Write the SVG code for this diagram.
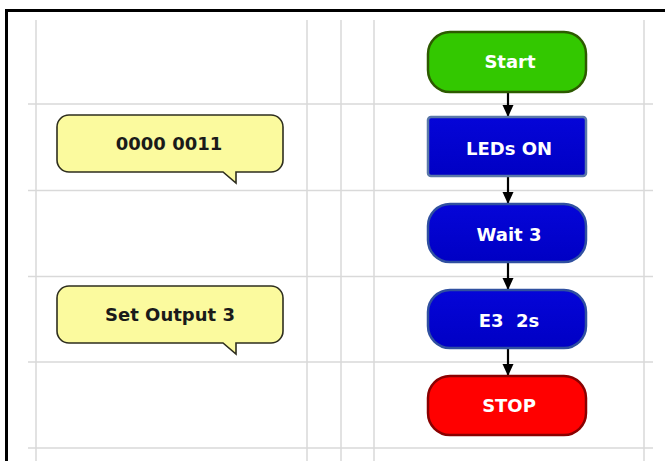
<svg xmlns="http://www.w3.org/2000/svg" width="665" height="461" viewBox="0 0 665 461">
  <style>
    .grid { stroke: #d9d9d9; stroke-width: 1.5; fill: none; }
    .frame { stroke: #000; stroke-width: 3; fill: none; }
    .lbl { font-family: "DejaVu Sans", Verdana, sans-serif; font-weight: bold; font-size: 18px; text-anchor: middle; }
    .wt { fill: #ffffff; }
    .bk { fill: #1a1a1a; }
    .conn { stroke: #000; stroke-width: 2.2; fill: none; }
    .bubble { fill: #fbfa9e; stroke: #2e2e1e; stroke-width: 1.6; }
  </style>
  <defs>
    <marker id="arr" viewBox="0 0 12 12" refX="12" refY="6" markerWidth="12" markerHeight="12" markerUnits="userSpaceOnUse" orient="auto">
      <path d="M0,0.5 L12,6 L0,11.5 Z" fill="#000"/>
    </marker>
    <linearGradient id="blueG" x1="0" y1="0" x2="0" y2="1">
      <stop offset="0" stop-color="#0505d8"/>
      <stop offset="1" stop-color="#0000c4"/>
    </linearGradient>
  </defs>
  <rect width="665" height="461" fill="#ffffff"/>
  <g id="grid">
    <line class="grid" x1="36" y1="20" x2="36" y2="461"/>
    <line class="grid" x1="307" y1="20" x2="307" y2="461"/>
    <line class="grid" x1="341" y1="20" x2="341" y2="461"/>
    <line class="grid" x1="374" y1="20" x2="374" y2="461"/>
    <line class="grid" x1="644" y1="20" x2="644" y2="461"/>
    <line class="grid" x1="28" y1="104" x2="653" y2="104"/>
    <line class="grid" x1="28" y1="190.5" x2="653" y2="190.5"/>
    <line class="grid" x1="28" y1="276.5" x2="653" y2="276.5"/>
    <line class="grid" x1="28" y1="362" x2="653" y2="362"/>
    <line class="grid" x1="28" y1="448" x2="653" y2="448"/>
  </g>
  <g id="frame">
    <polyline class="frame" points="6.5,461 6.5,10.5 665,10.5"/>
  </g>
  <g id="connectors">
    <line class="conn" x1="508" y1="92" x2="508" y2="117" marker-end="url(#arr)"/>
    <line class="conn" x1="508" y1="176" x2="508" y2="204" marker-end="url(#arr)"/>
    <line class="conn" x1="508" y1="262" x2="508" y2="290" marker-end="url(#arr)"/>
    <line class="conn" x1="508" y1="348" x2="508" y2="376" marker-end="url(#arr)"/>
  </g>
  <g id="start">
    <rect x="428" y="32" width="158" height="60" rx="22" fill="#33c800" stroke="#2d5a00" stroke-width="2.5"/>
    <text class="lbl wt" x="510" y="68" fill="#eaffea">Start</text>
  </g>
  <g id="leds-on">
    <rect x="428" y="117" width="158" height="59" rx="3" fill="url(#blueG)" stroke="#5a78a8" stroke-width="2.5"/>
    <text class="lbl wt" x="509" y="155">LEDs ON</text>
  </g>
  <g id="wait-3">
    <rect x="428" y="204" width="158" height="58" rx="22" fill="url(#blueG)" stroke="#3050a0" stroke-width="2.5"/>
    <text class="lbl wt" x="509" y="241">Wait 3</text>
  </g>
  <g id="e3-2s">
    <rect x="428" y="290" width="158" height="58" rx="22" fill="url(#blueG)" stroke="#3050a0" stroke-width="2.5"/>
    <text class="lbl wt" x="509" y="327" xml:space="preserve">E3  2s</text>
  </g>
  <g id="stop">
    <rect x="428" y="376" width="158" height="59" rx="22" fill="#ff0000" stroke="#8a0000" stroke-width="2.5"/>
    <text class="lbl wt" x="509" y="412" fill="#ffecec">STOP</text>
  </g>
  <g id="comment-1">
    <path class="bubble" d="M69,115 H271 A12,12 0 0 1 283,127 V160 A12,12 0 0 1 271,172 H236 V183 L223,172 H69 A12,12 0 0 1 57,160 V127 A12,12 0 0 1 69,115 Z"/>
    <text class="lbl bk" x="169" y="150">0000 0011</text>
  </g>
  <g id="comment-2">
    <path class="bubble" d="M69,286 H271 A12,12 0 0 1 283,298 V331 A12,12 0 0 1 271,343 H236 V354 L223,343 H69 A12,12 0 0 1 57,331 V298 A12,12 0 0 1 69,286 Z"/>
    <text class="lbl bk" x="170" y="321">Set Output 3</text>
  </g>
</svg>
